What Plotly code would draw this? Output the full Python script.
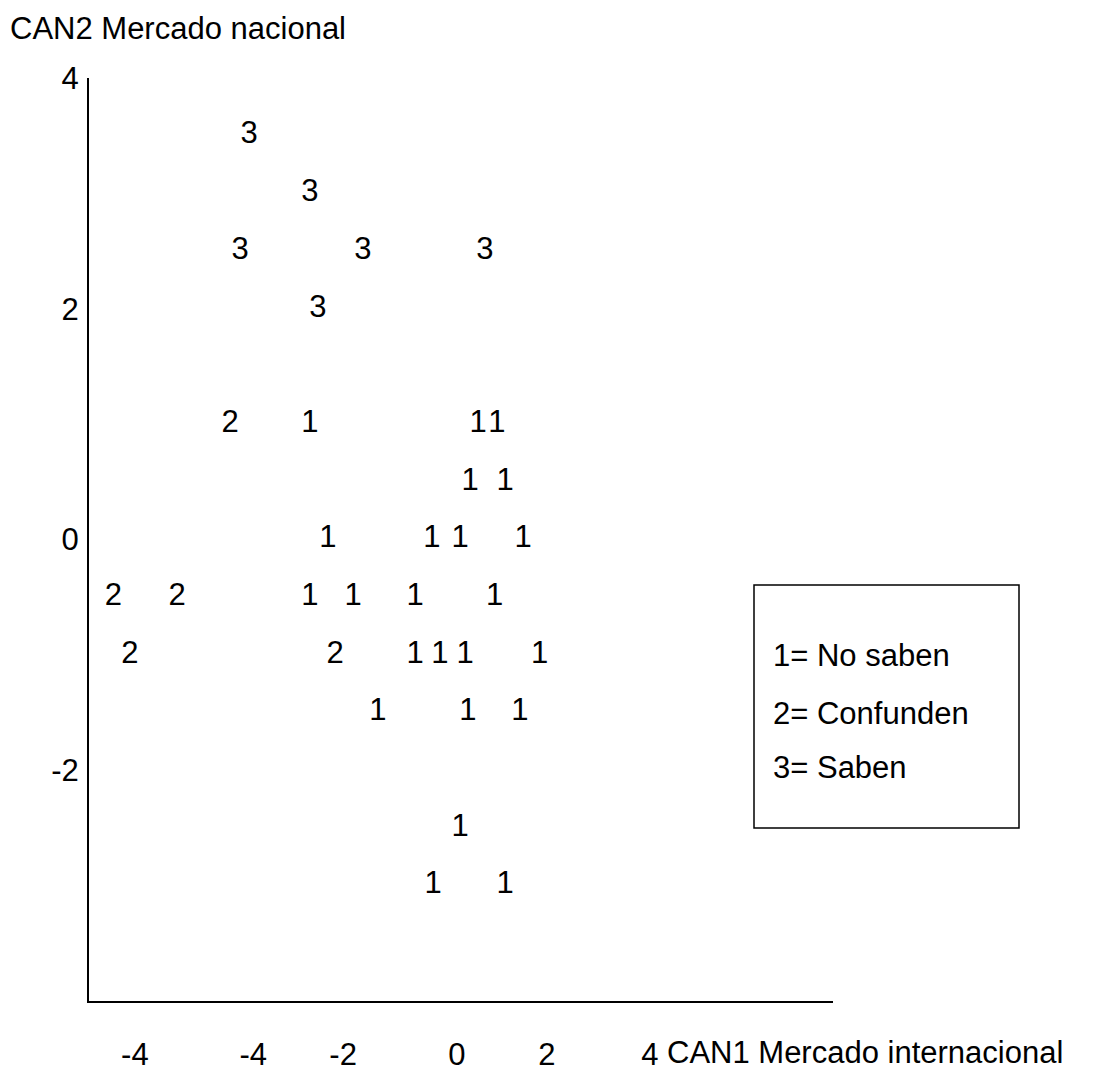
import plotly.graph_objects as go

# --- Data (CAN1 = x, CAN2 = y) ---
no_saben_can1 = [-3.27, 0.47, 0.89, 0.29, 1.07, -2.87, -0.56, 0.07, 1.47,
                 -3.27, -2.31, -0.93, 0.84, -0.93, -0.38, 0.18, 1.84,
                 -1.76, 0.24, 1.40, 0.07, -0.53, 1.07]
no_saben_can2 = [1.0, 1.0, 1.0, 0.5, 0.5, 0.0, 0.0, 0.0, 0.0,
                 -0.5, -0.5, -0.5, -0.5, -1.0, -1.0, -1.0, -1.0,
                 -1.5, -1.5, -1.5, -2.5, -3.0, -3.0]
confunden_can1 = [-5.04, -7.64, -6.22, -7.27, -2.71]
confunden_can2 = [1.0, -0.5, -0.5, -1.0, -1.0]
saben_can1 = [-4.62, -3.27, -4.82, -2.09, 0.62, -3.09]
saben_can2 = [3.5, 3.0, 2.5, 2.5, 2.5, 2.0]

group_codes = ["1", "2", "3"]
group_names = ["No saben", "Confunden", "Saben"]

x_tick_vals = [-7.16, -4.53, -2.53, 0, 2, 4.29]
x_tick_text = ["-4", "-4", "-2", "0", "2", "4"]
y_tick_vals = [4, 2, 0, -2]
y_tick_text = ["4", "2", "0", "-2"]

x_title = "CAN1 Mercado internacional"
y_title = "CAN2 Mercado nacional"

FONT = "Arial, Liberation Sans, sans-serif"
FS = 31

# page body has an 8px default margin; figure sized/offset to compensate
W, H = 1088, 1063
L, T, R, B = 81, 70, 263, 70
PW, PH = W - L - R, H - T - B   # 744 x 923


def px_x(page_x):
    return (page_x - 8 - L) / PW


def px_y(page_y):
    return (H - B - (page_y - 8)) / PH


fig = go.Figure()
series = [(no_saben_can1, no_saben_can2), (confunden_can1, confunden_can2),
          (saben_can1, saben_can2)]
for (xs, ys), code, name in zip(series, group_codes, group_names):
    fig.add_trace(go.Scatter(
        x=xs, y=ys, mode="text", text=[code] * len(xs), name=name,
        textposition="middle center",
        textfont=dict(family=FONT, size=FS, color="black"),
        showlegend=False, hoverinfo="x+y+name"))

fig.update_layout(
    width=W, height=H,
    margin=dict(l=L, r=R, t=T, b=B, autoexpand=False),
    paper_bgcolor="white", plot_bgcolor="white",
    font=dict(family=FONT, size=FS, color="black"),
    xaxis=dict(range=[-8.18, 8.36], showgrid=False, zeroline=False,
               showline=True, linecolor="black", linewidth=2,
               tickvals=x_tick_vals, ticktext=x_tick_text, ticks="",
               ticklabelstandoff=25, automargin=False,
               tickfont=dict(family=FONT, size=FS, color="black")),
    yaxis=dict(range=[-4, 4], showgrid=False, zeroline=False,
               showline=True, linecolor="black", linewidth=2,
               tickvals=y_tick_vals, ticktext=y_tick_text, ticks="",
               ticklabelstandoff=2, automargin=False,
               tickfont=dict(family=FONT, size=FS, color="black")),
)

# axis titles
fig.add_annotation(text=y_title, xref="paper", yref="paper",
                   x=px_x(8), y=px_y(29), xanchor="left", yanchor="middle",
                   showarrow=False, font=dict(family=FONT, size=FS, color="black"))
fig.add_annotation(text=x_title, xref="paper", yref="paper",
                   x=px_x(665), y=px_y(1052),
                   xanchor="left", yanchor="middle",
                   showarrow=False, font=dict(family=FONT, size=FS, color="black"))

# key box
fig.add_shape(type="rect", xref="paper", yref="paper",
              x0=px_x(754), x1=px_x(1019),
              y0=px_y(828), y1=px_y(585),
              line=dict(color="black", width=1.5), fillcolor="rgba(0,0,0,0)")
key_y_px = [655, 713, 767]
for code, name, ypx in zip(group_codes, group_names, key_y_px):
    fig.add_annotation(text=f"{code}= {name}", xref="paper", yref="paper",
                       x=px_x(771), y=px_y(ypx),
                       xanchor="left", yanchor="middle", showarrow=False,
                       font=dict(family=FONT, size=FS, color="black"))

fig.write_html("out.html")
